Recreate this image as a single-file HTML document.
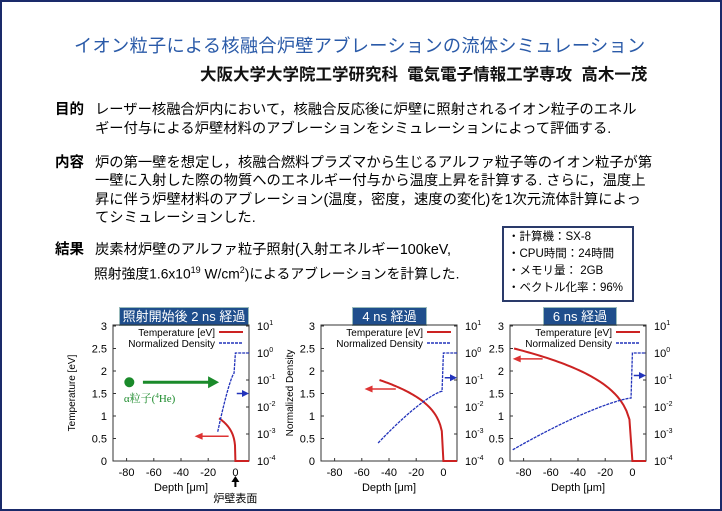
<!DOCTYPE html>
<html><head><meta charset="utf-8"><style>
body{margin:0;background:#fff}
#w{position:relative;width:718px;height:507px;border:2px solid #1a2a6a;overflow:hidden;background:#fff;font-family:"Liberation Sans","Noto Sans CJK JP",sans-serif}
.t{position:absolute;white-space:nowrap;line-height:1}
.b{font-weight:bold}
.tb{position:absolute;background:#1f4e8c;color:#fff;font-size:13px;text-align:center;line-height:17px;border:1px solid #9bb}
svg{position:absolute;left:0;top:0}
</style></head><body><div id="w">
<div class="t" style="left:72px;top:35px;font-size:18.2px;color:#2a5aa8;letter-spacing:0.3px">イオン粒子による核融合炉壁アブレーションの流体シミュレーション</div>
<div class="t b" style="left:198px;top:65px;font-size:16.5px;color:#111">大阪大学大学院工学研究科&nbsp; 電気電子情報工学専攻&nbsp; 高木一茂</div>
<div class="t b" style="left:53px;top:101px;font-size:14.5px">目的</div>
<div class="t" style="left:93px;top:101px;font-size:14.3px">レーザー核融合炉内において，核融合反応後に炉壁に照射されるイオン粒子のエネル</div>
<div class="t" style="left:93px;top:120px;font-size:14.3px">ギー付与による炉壁材料のアブレーションをシミュレーションによって評価する.</div>
<div class="t b" style="left:53px;top:154px;font-size:14.5px">内容</div>
<div class="t" style="left:93px;top:154px;font-size:14.3px">炉の第一壁を想定し，核融合燃料プラズマから生じるアルファ粒子等のイオン粒子が第</div>
<div class="t" style="left:93px;top:172px;font-size:14.3px">一壁に入射した際の物質へのエネルギー付与から温度上昇を計算する. さらに，温度上</div>
<div class="t" style="left:93px;top:191px;font-size:14.3px">昇に伴う炉壁材料のアブレーション(温度，密度，速度の変化)を1次元流体計算によっ</div>
<div class="t" style="left:93px;top:209px;font-size:14.3px">てシミュレーションした.</div>
<div class="t b" style="left:53px;top:241px;font-size:14.5px">結果</div>
<div class="t" style="left:93px;top:241px;font-size:14.3px">炭素材炉壁のアルファ粒子照射(入射エネルギー100keV,</div>
<div class="t" style="left:92px;top:264px;font-size:13.8px">照射強度1.6x10<sup style="font-size:9px">19</sup> W/cm<sup style="font-size:9px">2</sup>)によるアブレーションを計算した.</div>
<div style="position:absolute;left:500px;top:224px;width:128px;height:72px;border:2px solid #2a3a6a"></div>
<div class="t" style="left:506px;top:230px;font-size:11.5px">・計算機：SX-8</div>
<div class="t" style="left:506px;top:247px;font-size:11.5px">・CPU時間：24時間</div>
<div class="t" style="left:506px;top:264px;font-size:11.5px">・メモリ量： 2GB</div>
<div class="t" style="left:506px;top:281px;font-size:11.5px">・ベクトル化率：96%</div>
<div class="tb" style="left:117px;top:305px;width:128px">照射開始後 2 ns 経過</div>
<div class="tb" style="left:350px;top:305px;width:73px">4 ns 経過</div>
<div class="tb" style="left:541px;top:305px;width:72px">6 ns 経過</div>
<svg id="s" width="718" height="507" font-family="Liberation Sans, sans-serif"></svg>
</div>
<script>
var s=document.getElementById('s'),h='';
var panels=[{L:113,T0:0.95,Le:12,d0:0.65,d1:1.95,ra:[0.55,-5,-30],ba:1.5},
{L:321,T0:1.8,Le:47,d0:0.4,d1:1.55,ra:[1.6,-35,-58],ba:1.85},
{L:510,T0:2.5,Le:87,d0:0.25,d1:1.4,ra:[2.27,-66,-88],ba:1.9}];
panels.forEach(function(p,i){
 var L=p.L-2,R=L+136,T=323,B=459;
 function X(v){return L+(v+90)*1.36}
 function Y(v){return B-v*45}
 h+='<rect x="'+L+'" y="'+T+'" width="136" height="136" fill="none" stroke="#333" stroke-width="1"/>';
 for(var k=0;k<=6;k++){var yv=k*0.5;h+='<text x="'+(L-6)+'" y="'+(Y(yv)+4)+'" font-size="11" text-anchor="end">'+yv+'</text><line x1="'+L+'" x2="'+(L+3)+'" y1="'+Y(yv)+'" y2="'+Y(yv)+'" stroke="#333"/>';}
 for(var k=-80;k<=0;k+=20){h+='<text x="'+X(k)+'" y="'+(B+15)+'" font-size="11" text-anchor="middle">'+k+'</text><line x1="'+X(k)+'" x2="'+X(k)+'" y1="'+B+'" y2="'+(B-3)+'" stroke="#333"/>';}
 for(var e=-4;e<=1;e++){var yy=B-(e+4)*27;h+='<text x="'+(R+8)+'" y="'+(yy+4)+'" font-size="11">10<tspan font-size="7" dy="-5">'+e+'</tspan></text><line x1="'+R+'" x2="'+(R-3)+'" y1="'+yy+'" y2="'+yy+'" stroke="#333"/>';}
 h+='<text x="'+(L+68)+'" y="'+(B+30)+'" font-size="11" text-anchor="middle">Depth [μm]</text>';
 if(i==0){
 h+='<text transform="translate('+(L-38)+','+(T+68)+') rotate(-90)" font-size="10" text-anchor="middle">Temperature [eV]</text>';
 h+='<text transform="translate('+(R+44)+','+(T+68)+') rotate(-90)" font-size="10" text-anchor="middle">Normalized Density</text>';
 }
 h+='<text x="'+(R-34)+'" y="'+(T+11)+'" font-size="10" text-anchor="end">Temperature [eV]</text><line x1="'+(R-30)+'" x2="'+(R-6)+'" y1="'+(T+7)+'" y2="'+(T+7)+'" stroke="#c22" stroke-width="2"/>';
 h+='<text x="'+(R-34)+'" y="'+(T+22)+'" font-size="10" text-anchor="end">Normalized Density</text><line x1="'+(R-30)+'" x2="'+(R-6)+'" y1="'+(T+18)+'" y2="'+(T+18)+'" stroke="#23b" stroke-width="1.5" stroke-dasharray="3,1"/>';
 var pt=[];for(var j=0;j<=40;j++){var d=p.Le*(1-j/40);pt.push(X(-d)+','+Y(p.T0*Math.pow(d/p.Le,0.27)));}
 pt.push(X(0)+','+Y(0));pt.push(X(10)+','+Y(0));
 h+='<polyline points="'+pt.join(' ')+'" fill="none" stroke="#c22" stroke-width="2"/>';
 var pd=[];for(var j=0;j<=40;j++){var d=p.Le*(1-j/40)+1;pd.push(X(-d)+','+Y(p.d1-(p.d1-p.d0)*Math.pow((d-1)/p.Le,1.3)));}
 pd.push(X(0)+','+Y(2.4));pd.push(X(10)+','+Y(2.4));
 h+='<polyline points="'+pd.join(' ')+'" fill="none" stroke="#23b" stroke-width="1.3" stroke-dasharray="3,1"/>';
 var ra=p.ra;h+='<line x1="'+X(ra[1])+'" x2="'+(X(ra[2])+6)+'" y1="'+Y(ra[0])+'" y2="'+Y(ra[0])+'" stroke="#d33" stroke-width="1.5"/><polygon points="'+X(ra[2])+','+Y(ra[0])+' '+(X(ra[2])+8)+','+(Y(ra[0])-3.5)+' '+(X(ra[2])+8)+','+(Y(ra[0])+3.5)+'" fill="#d33"/>';
 var by=Y(p.ba);h+='<line x1="'+X(1)+'" x2="'+(R-5)+'" y1="'+by+'" y2="'+by+'" stroke="#23b" stroke-width="1.5"/><polygon points="'+R+','+by+' '+(R-7)+','+(by-3.5)+' '+(R-7)+','+(by+3.5)+'" fill="#23b"/>';
 if(i==0){
  h+='<circle cx="'+X(-78)+'" cy="'+Y(1.75)+'" r="5" fill="#1a8a2a"/>';
  h+='<line x1="'+X(-68)+'" x2="'+(X(-12)-10)+'" y1="'+Y(1.75)+'" y2="'+Y(1.75)+'" stroke="#1a8a2a" stroke-width="3"/><polygon points="'+X(-12)+','+Y(1.75)+' '+(X(-12)-11)+','+(Y(1.75)-6)+' '+(X(-12)-11)+','+(Y(1.75)+6)+'" fill="#1a8a2a"/>';
  h+='<text x="'+(X(-82))+'" y="'+(Y(1.4)+4)+'" font-size="11" fill="#1a8a2a" font-family="Liberation Serif, Noto Serif CJK SC, serif">α粒子(<tspan font-size="7" dy="-4">4</tspan><tspan dy="4">He)</tspan></text>';
  h+='<line x1="'+X(0)+'" x2="'+X(0)+'" y1="'+(B+18)+'" y2="'+(B+26)+'" stroke="#000" stroke-width="2"/><polygon points="'+X(0)+','+(B+15)+' '+(X(0)-4)+','+(B+21)+' '+(X(0)+4)+','+(B+21)+'"/>';
  h+='<text x="'+X(0)+'" y="'+(B+41)+'" font-size="11" text-anchor="middle" font-family="Liberation Sans, Noto Sans CJK JP, sans-serif">炉壁表面</text>';
 }
});
s.innerHTML=h;
</script>
</body></html>
